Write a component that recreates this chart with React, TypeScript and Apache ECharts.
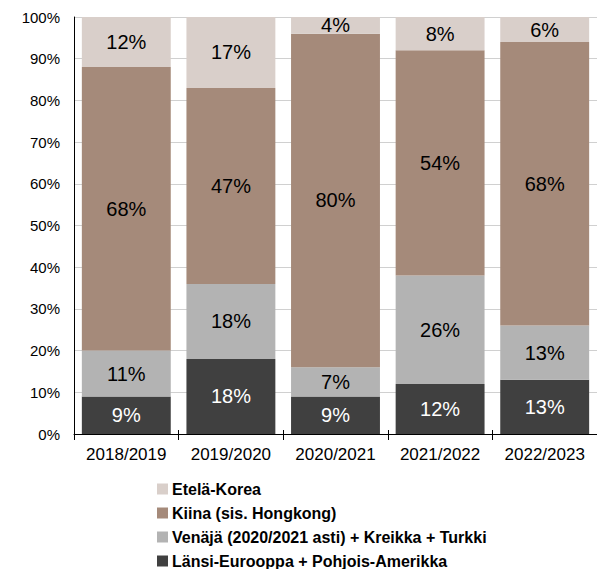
import React, { useEffect, useRef } from "react";
import * as echarts from "echarts";

const categories = ["2018/2019", "2019/2020", "2020/2021", "2021/2022", "2022/2023"];
const lansi = [9, 18, 9, 12, 13];
const venaja = [11, 18, 7, 26, 13];
const kiina = [68, 47, 80, 54, 68];
const korea = [12, 17, 4, 8, 6];

const names = [
  "Länsi-Eurooppa + Pohjois-Amerikka",
  "Venäjä (2020/2021 asti) + Kreikka + Turkki",
  "Kiina (sis. Hongkong)",
  "Etelä-Korea",
];
const colors = ["#404040", "#b3b3b3", "#a58a7a", "#d9cfca"];
const labelColors = ["#ffffff", "#000000", "#000000", "#000000"];

export default function App() {
  const ref = useRef<HTMLDivElement>(null);
  useEffect(() => {
    const chart = echarts.init(ref.current!, null, { renderer: "svg" });
    const seriesData = [lansi, venaja, kiina, korea];
    const legendOrder = [3, 2, 1, 0];
    chart.setOption({
      animation: false,
      textStyle: { fontFamily: "Liberation Sans, Arial, sans-serif" },
      grid: { left: 74, right: 0, top: 17, bottom: 135 },
      legend: legendOrder.map((idx, row) => ({
        orient: "horizontal",
        left: 157,
        top: 481 + row * 24,
        padding: 0,
        itemWidth: 11,
        itemHeight: 11,
        icon: "rect",
        data: [names[idx]],
        textStyle: { fontSize: 16, fontWeight: "bold", color: "#000", padding: [0, 0, 0, -1] },
      })),
      xAxis: [
        {
          type: "category",
          data: categories,
          axisLine: { lineStyle: { color: "#000", width: 1 } },
          axisTick: { show: true, length: 6, lineStyle: { color: "#000" } },
          axisLabel: { fontSize: 17, color: "#000", margin: 12, interval: 0 },
        },
        {
          type: "category",
          data: categories,
          position: "bottom",
          axisLine: { show: false },
          axisTick: { show: true, inside: true, length: 4, lineStyle: { color: "#000" } },
          axisLabel: { show: false },
        },
      ],
      yAxis: {
        type: "value",
        min: 0,
        max: 100,
        interval: 10,
        axisLine: { show: true, lineStyle: { color: "#000" } },
        axisTick: { show: false },
        splitLine: { lineStyle: { color: "#d0d0d0", width: 1 } },
        axisLabel: { fontSize: 15, color: "#000", formatter: "{value}%", margin: 14 },
      },
      series: seriesData.map((d, i) => ({
        name: names[i],
        type: "bar",
        stack: "total",
        data: d,
        barCategoryGap: "15%",
        itemStyle: { color: colors[i] },
        label: {
          show: true,
          position: "inside",
          formatter: "{c}%",
          fontSize: 20,
          color: labelColors[i],
        },
      })),
    });
    return () => chart.dispose();
  }, []);
  return <div ref={ref} style={{ width: 597, height: 569, position: "absolute", left: 0, top: 0 }} />;
}
